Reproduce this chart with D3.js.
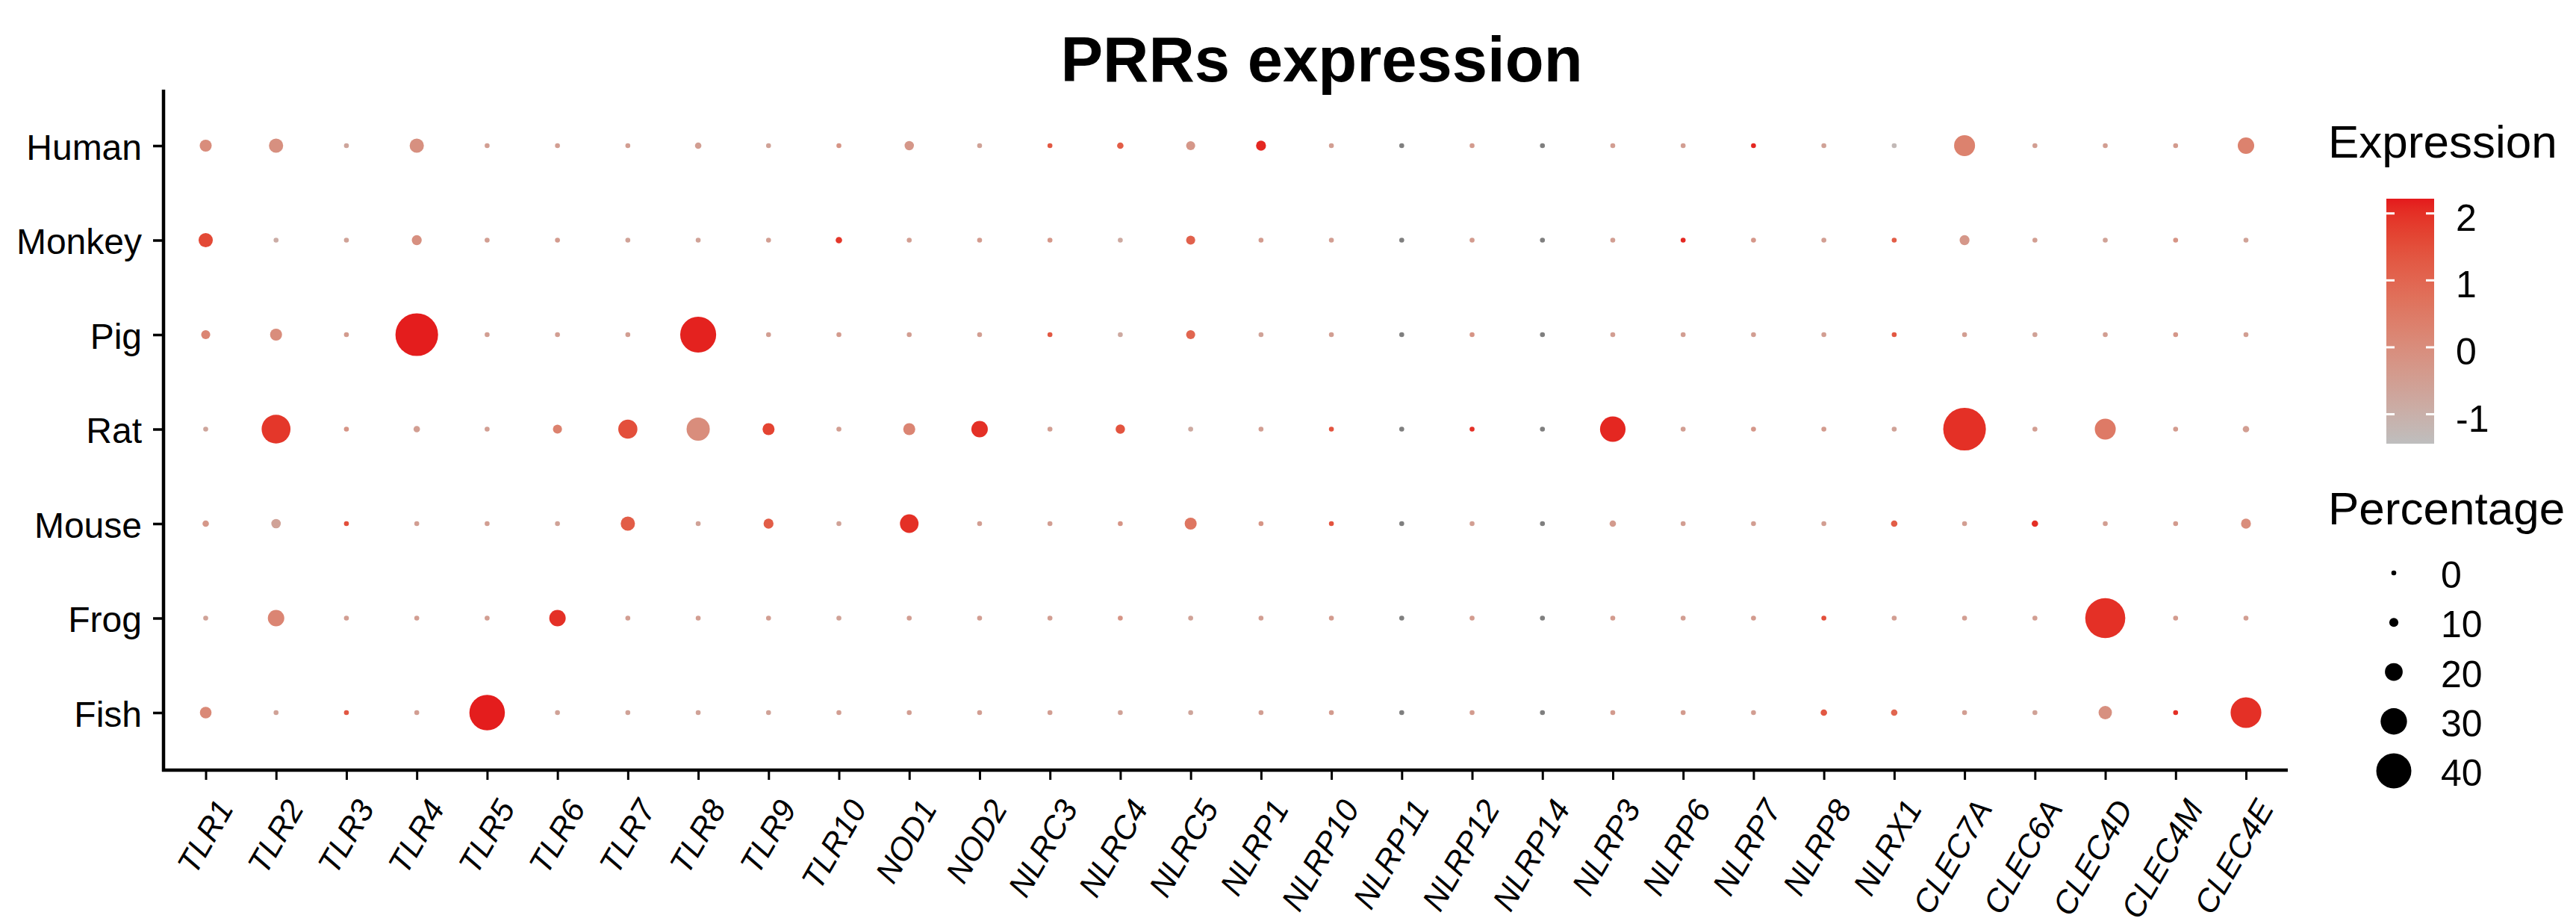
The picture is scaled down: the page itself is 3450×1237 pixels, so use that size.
<!DOCTYPE html>
<html><head><meta charset="utf-8">
<script src="https://cdn.jsdelivr.net/npm/d3@7/dist/d3.min.js"></script>
<style>
body{margin:0;background:#fff}
svg{display:block}
text{font-family:"Liberation Sans",Arial,Helvetica,sans-serif;fill:#000}
</style>
</head><body>
<svg id="chart" width="3450" height="1237"></svg>
<script>
// ---------- data ----------
const genes = ["TLR1","TLR2","TLR3","TLR4","TLR5","TLR6","TLR7","TLR8","TLR9","TLR10",
  "NOD1","NOD2","NLRC3","NLRC4","NLRC5","NLRP1","NLRP10","NLRP11","NLRP12","NLRP14",
  "NLRP3","NLRP6","NLRP7","NLRP8","NLRX1","CLEC7A","CLEC6A","CLEC4D","CLEC4M","CLEC4E"];
const species = ["Human","Monkey","Pig","Rat","Mouse","Frog","Fish"];

// percentage of expressing cells, per species (order follows genes)
const pctHuman  = [13.4,16,2,16,2,2,2,7,2,2, 10.3,2,2,7,10,11,2,2,2,2, 2,2,2,2,2,23.7,2,2,2,18.5];
const pctMonkey = [16,2,2,11,2,2,2,2,2,7, 2,2,2,2,10,2,2,2,2,2, 2,2,2,2,2,11,2,2,2,2];
const pctPig    = [10,13.4,2,48.7,2,2,2,41,2,2, 2,2,2,2,10,2,2,2,2,2, 2,2,2,2,2,2,2,2,2,2];
const pctRat    = [2,32.8,2,7,2,10,21.6,26.3,13.4,2, 13.4,18.5,2,10.3,2,2,2,2,2,2, 29,2,2,2,2,48.7,2,23.7,2,7];
const pctMouse  = [7,10.5,2,2,2,2,16,2,11,2, 21,2,2,2,13.4,2,2,2,2,2, 7,2,2,2,7,2,7,2,2,11];
const pctFrog   = [2,18.5,2,2,2,18.5,2,2,2,2, 2,2,2,2,2,2,2,2,2,2, 2,2,2,2,2,2,2,45.7,2,2];
const pctFish   = [13,2,2,2,40.5,2,2,2,2,2, 2,2,2,2,2,2,2,2,2,2, 2,2,2,7,7,2,2,15,2,35];

// scaled average expression (null = not available, drawn grey)
const exprHuman  = [0,-0.1,-0.7,-0.1,-0.5,-0.5,-0.5,-0.5,-0.6,-0.2, -0.3,-0.6,1.3,1.2,-0.3,2.1,-0.5,null,-0.4,null, -0.5,-0.5,2.1,-0.6,-1.3,0.3,-0.5,-0.5,-0.4,0.3];
const exprMonkey = [1.6,-0.9,-0.6,-0.1,-0.5,-0.4,-0.6,-0.6,-0.5,1.9, -0.5,-0.4,-0.3,-0.8,1.1,-0.4,-0.5,null,-0.4,null, -0.5,2.1,-0.3,-0.5,1.2,-0.3,-0.5,-0.6,-0.2,-0.6];
const exprPig    = [0.2,0,-0.4,2.2,-0.5,-0.5,-0.5,2.15,-0.5,-0.4, -0.5,-0.5,1.3,-0.8,1.0,-0.6,-0.5,null,-0.2,null, -0.5,-0.5,-0.5,-0.5,1.3,-0.5,-0.6,-0.5,-0.3,-0.5];
const exprRat    = [-0.7,1.9,-0.2,-0.5,-0.5,0.3,1.5,0,1.7,-0.5, 0.2,2.0,-0.5,1.4,-0.8,-0.5,1.4,null,2.0,null, 2.1,-0.5,-0.3,-0.4,-0.6,2.0,-0.5,0.5,-0.4,-0.5];
const exprMouse  = [-0.3,-0.6,1.5,-0.5,-0.5,-0.6,1.2,-0.6,1.2,-0.6, 2.0,-0.5,-0.5,-0.2,0.6,-0.2,1.4,null,-0.5,null, -0.4,-0.5,-0.5,-0.5,1.2,-0.5,2.0,-0.5,-0.4,0];
const exprFrog   = [-0.6,0.2,-0.5,-0.5,-0.5,2.0,-0.5,-0.5,-0.5,-0.6, -0.5,-0.5,-0.5,-0.2,-0.6,-0.5,-0.4,null,-0.4,null, -0.4,-0.5,-0.4,1.5,-0.5,-0.5,-0.5,2.0,-0.4,-0.5];
const exprFish   = [0.1,-0.6,1.3,-0.5,2.2,-0.6,-0.6,-0.6,-0.6,-0.5, -0.5,-0.5,-0.5,-0.6,-0.7,-0.5,-0.4,null,-0.4,null, -0.4,-0.4,-0.5,1.3,1.0,-0.5,-0.6,-0.1,2.0,2.0];

const pctBySpecies  = [pctHuman,pctMonkey,pctPig,pctRat,pctMouse,pctFrog,pctFish];
const exprBySpecies = [exprHuman,exprMonkey,exprPig,exprRat,exprMouse,exprFrog,exprFish];

const colorTicks = [2,1,0,-1];
const sizeTicks  = [0,10,20,30,40];
const exprDomain = [-1.44, 2.22];
const titleText = "PRRs expression";

// ---------- build table ----------
const cells = [];
species.forEach((s,i)=>genes.forEach((g,j)=>{
  cells.push({species:s, gene:g, pct:pctBySpecies[i][j], expr:exprBySpecies[i][j]});
}));

// ---------- scales ----------
const svg = d3.select("#chart");
const x = d3.scalePoint().domain(genes).range([275.5, 3008]);
const y = d3.scalePoint().domain(species).range([195, 954]);
const color = d3.scaleLinear().domain(exprDomain).range(["#BEBEBE","#E41A1C"]).interpolate(d3.interpolateLab);
const rScale = d3.scaleLinear().domain([0,40]).range([0.25,23.5]);
const radius = p => Math.max(3.3, rScale(p));
const naColor = "#7F7F7F";

const plotLeft = 219, plotRight = 3064, plotTop = 120, plotBottom = 1031;

// ---------- title ----------
svg.append("text").attr("x",1770).attr("y",109).attr("text-anchor","middle")
  .style("font-size","85px").style("font-weight","bold").text(titleText);

// ---------- axes ----------
const yAxis = svg.append("g").attr("transform",`translate(${plotLeft},0)`)
  .call(d3.axisLeft(y).tickSize(14).tickPadding(15).tickSizeOuter(0));
yAxis.select(".domain").remove();
yAxis.selectAll(".tick line").attr("stroke","#000").attr("stroke-width",3.5);
yAxis.selectAll(".tick text").style("font-size","48px").attr("dy","0.38em").attr("fill","#000");

const xAxis = svg.append("g").attr("transform",`translate(0,${plotBottom})`)
  .call(d3.axisBottom(x).tickSize(13).tickSizeOuter(0));
xAxis.select(".domain").remove();
xAxis.selectAll(".tick line").attr("stroke","#000").attr("stroke-width",3);
xAxis.selectAll(".tick text")
  .style("font-size","43px").style("font-style","italic").attr("fill","#000")
  .attr("text-anchor","end").attr("dy",null).attr("y",null)
  .attr("transform","translate(38,51) rotate(-60)");

svg.append("line").attr("x1",plotLeft).attr("x2",plotLeft).attr("y1",plotTop).attr("y2",plotBottom+2)
  .attr("stroke","#000").attr("stroke-width",4.5);
svg.append("line").attr("x1",plotLeft-2).attr("x2",plotRight).attr("y1",plotBottom).attr("y2",plotBottom)
  .attr("stroke","#000").attr("stroke-width",4.5);

// ---------- dots ----------
svg.append("g").selectAll("circle").data(cells).join("circle")
  .attr("cx",d=>x(d.gene)).attr("cy",d=>y(d.species))
  .attr("r",d=>radius(d.pct))
  .attr("fill",d=>d.expr===null?naColor:color(d.expr));

// ---------- colour legend ----------
const lg = svg.append("g");
lg.append("text").attr("x",3118).attr("y",211).style("font-size","62px").text("Expression");
const barX=3196, barW=64, barTop=266, barBot=594;
const barY = d3.scaleLinear().domain(exprDomain).range([barBot,barTop]);
const grad = svg.append("defs").append("linearGradient").attr("id","expgrad")
  .attr("x1",0).attr("y1",1).attr("x2",0).attr("y2",0);
d3.range(0,1.0001,0.05).forEach(t=>{
  grad.append("stop").attr("offset",t).attr("stop-color",color(exprDomain[0]+t*(exprDomain[1]-exprDomain[0])));
});
lg.append("rect").attr("x",barX).attr("y",barTop).attr("width",barW).attr("height",barBot-barTop).attr("fill","url(#expgrad)");
colorTicks.forEach(v=>{
  const yy = barY(v);
  lg.append("line").attr("x1",barX).attr("x2",barX+11).attr("y1",yy).attr("y2",yy).attr("stroke","#fff").attr("stroke-width",3);
  lg.append("line").attr("x1",barX+barW-11).attr("x2",barX+barW).attr("y1",yy).attr("y2",yy).attr("stroke","#fff").attr("stroke-width",3);
  lg.append("text").attr("x",3289).attr("y",yy+23).style("font-size","50px").text(v);
});

// ---------- size legend ----------
lg.append("text").attr("x",3118).attr("y",702).style("font-size","62px").text("Percentage");
const sizeY = d3.scalePoint().domain(sizeTicks).range([767,1032]);
sizeTicks.forEach(v=>{
  lg.append("circle").attr("cx",3206).attr("cy",sizeY(v)).attr("r",radius(v)).attr("fill","#000");
  lg.append("text").attr("x",3269).attr("y",sizeY(v)+20).style("font-size","50px").text(v);
});
</script>
</body></html>
